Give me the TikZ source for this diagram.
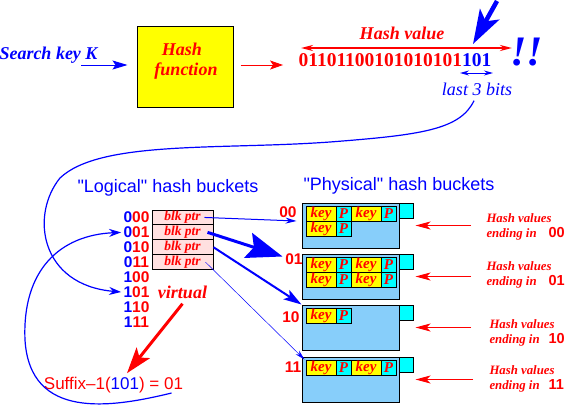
\documentclass[tikz,border=0pt]{standalone}
\usepackage{fontspec}
\setmainfont{Liberation Serif}
\setsansfont{Liberation Sans}
\usetikzlibrary{arrows.meta}
\definecolor{ltblue}{RGB}{135,206,250}
\definecolor{ptrpink}{RGB}{255,224,224}
\definecolor{boxyellow}{RGB}{255,255,0}
\definecolor{tabcyan}{RGB}{0,255,255}
\newcommand{\tailbits}[1]{{\sffamily\upshape\fontsize{14.5}{15.5}\selectfont #1}}

\begin{document}
\begin{tikzpicture}[x=1pt, y=-1pt, line width=1pt,
		bi/.style={font=\fontsize{#1}{#1}\selectfont\bfseries\itshape, inner sep=0pt},
		sans/.style={font=\sffamily\fontsize{#1}{#1}\selectfont, inner sep=0pt},
		sansb/.style={font=\sffamily\bfseries\fontsize{#1}{#1}\selectfont, inner sep=0pt},
		hashbox/.style={draw, fill=boxyellow, minimum width=96pt, minimum height=81pt},
		ptrcell/.style={draw, fill=ptrpink, minimum width=61pt, minimum height=14.9pt, text=red, bi=13.5},
		bucket/.style={draw, fill=ltblue, minimum width=97pt, minimum height=45pt},
		flag/.style={draw, fill=tabcyan, minimum width=14pt, minimum height=15pt},
		keycell/.style={draw, fill=boxyellow, minimum width=30pt, minimum height=15pt, text=red, bi=15},
		pcell/.style={draw, fill=tabcyan, minimum width=15pt, minimum height=15pt, text=red, bi=15},
		bitlbl/.style={sansb=15.5, text=red},
		ending/.style={font=\fontsize{12.8}{15.5}\selectfont\bfseries\itshape, inner sep=0pt, text=red, align=left, anchor=west},
		link/.style={draw=blue, line width=1.2pt, -{Stealth[length=12pt, width=8pt]}},
		redarr/.style={draw=red, -{Stealth[length=15pt, width=8pt, inset=4pt]}}
	]
		\useasboundingbox (0, 0) rectangle (566, 410);

		\node[bi=18, text=blue, anchor=base] (skey) at (48.5, 59) {Search key K};
		\node[hashbox] (hf) at (185, 66.5) {};
		\node[bi=18, text=red, anchor=base] (hfa) at (182, 55) {Hash};
		\node[bi=18, text=red, anchor=base] (hfb) at (186, 75.5) {function};
		\node[anchor=base, inner sep=0pt, text=red, font=\fontsize{19.5}{19.5}\selectfont\bfseries] (bits) at (395, 66.5) {01101100101010101\textcolor{blue}{101}};
		\node[bi=18, text=red, anchor=base] (hval) at (402, 39) {Hash value};
		\node[bi=42, text=blue, anchor=base] (bang) at (527, 65) {!!};
		\node[anchor=base, inner sep=0pt, text=blue, font=\fontsize{18}{18}\selectfont\itshape] (last3) at (477, 95) {last 3 bits};

		\coordinate (kin) at (81, 65);
		\coordinate (hvl) at (301, 48);
		\coordinate (hvr) at (512, 48);
		\coordinate (lbl) at (460, 73);
		\coordinate (lbr) at (493, 73);
		\coordinate (bigtail) at (497, 1);

		\node[sans=18, text=blue, anchor=base] (logt) at (168, 192) {\textquotedbl Logical\textquotedbl{} hash buckets};
		\node[sans=18, text=blue, anchor=base] (phyt) at (399, 190) {\textquotedbl Physical\textquotedbl{} hash buckets};

		\node[bitlbl] (l000) at (136.5, 217.5) {\textcolor{blue}{0}00};
		\node[bitlbl] (l001) at (136.5, 232.4) {\textcolor{blue}{0}01};
		\node[bitlbl] (l010) at (136.5, 247.3) {\textcolor{blue}{0}10};
		\node[bitlbl] (l011) at (136.5, 262.2) {\textcolor{blue}{0}11};
		\node[bitlbl] (l100) at (136.5, 277.1) {\textcolor{blue}{1}00};
		\node[bitlbl] (l101) at (136.5, 292.0) {\textcolor{blue}{1}01};
		\node[bitlbl] (l110) at (136.5, 306.9) {\textcolor{blue}{1}10};
		\node[bitlbl] (l111) at (136.5, 321.8) {\textcolor{blue}{1}11};

		\node[ptrcell] (p000) at (182.5, 217.45) {blk ptr};
		\node[ptrcell] (p001) at (182.5, 232.35) {blk ptr};
		\node[ptrcell] (p010) at (182.5, 247.25) {blk ptr};
		\node[ptrcell] (p011) at (182.5, 262.15) {blk ptr};

		\node[bi=18, text=red, anchor=base] (virt) at (182.5, 298) {virtual};
		\node[sans=17, text=red, anchor=base] (suffix) at (113.5, 389) {Suffix--1(\textcolor{blue}{101}) = 01};

		\node[bucket] (b00) at (350.5, 225.5) {};
		\node[flag] (f00) at (406, 210.5) {};
		\node[keycell] (k00a) at (321, 214) {key};
		\node[pcell] (q00a) at (343.5, 214) {P};
		\node[keycell] (k00b) at (366, 214) {key};
		\node[pcell] (q00b) at (388.5, 214) {P};
		\node[keycell] (k00c) at (321, 229) {key};
		\node[pcell] (q00c) at (343.5, 229) {P};

		\node[bucket] (b01) at (350.5, 276.5) {};
		\node[flag] (f01) at (406, 261.5) {};
		\node[keycell] (k01a) at (321, 265) {key};
		\node[pcell] (q01a) at (343.5, 265) {P};
		\node[keycell] (k01b) at (366, 265) {key};
		\node[pcell] (q01b) at (388.5, 265) {P};
		\node[keycell] (k01c) at (321, 280) {key};
		\node[pcell] (q01c) at (343.5, 280) {P};
		\node[keycell] (k01d) at (366, 280) {key};
		\node[pcell] (q01d) at (388.5, 280) {P};

		\node[bucket] (b10) at (350.5, 327.5) {};
		\node[flag] (f10) at (406, 312.5) {};
		\node[keycell] (k10a) at (321, 316) {key};
		\node[pcell] (q10a) at (343.5, 316) {P};

		\node[bucket] (b11) at (350.5, 379.5) {};
		\node[flag] (f11) at (406, 364.5) {};
		\node[keycell] (k11a) at (321, 368) {key};
		\node[pcell] (q11a) at (343.5, 368) {P};
		\node[keycell] (k11b) at (366, 368) {key};
		\node[pcell] (q11b) at (388.5, 368) {P};

		\node[sansb=15.5, text=red] (n00) at (288, 212) {00};
		\node[sansb=15.5, text=red] (n01) at (294, 259) {01};
		\node[sansb=15.5, text=red] (n10) at (291, 317) {10};
		\node[sansb=15.5, text=red] (n11) at (293, 367) {11};

		\node[ending] (hv00) at (486, 226.8) {Hash values\\ending in\hspace{12pt}\tailbits{00}};
		\node[ending] (hv01) at (486, 274.8) {Hash values\\ending in\hspace{12pt}\tailbits{01}};
		\node[ending] (hv10) at (489, 332.8) {Hash values\\ending in\hspace{9pt}\tailbits{10}};
		\node[ending] (hv11) at (489, 378.8) {Hash values\\ending in\hspace{9pt}\tailbits{11}};

		\draw[blue, -{Stealth[length=15pt, width=9pt, inset=3pt]}, shorten >=9pt] (kin) -- (kin -| hf.west);
		\draw[red, -{Stealth[length=13pt, width=9pt, inset=3pt]}, shorten <=7pt, shorten >=15pt] (hf.east |- kin) -- (kin -| bits.west);
		\draw[red, line width=2pt, {Stealth[length=12pt, width=6pt]}-{Stealth[length=12pt, width=6pt]}] (hvl) -- (hvr);
		\draw[blue, {Stealth[length=9pt, width=5pt]}-{Stealth[length=9pt, width=5pt]}] (lbl) -- (lbr);
		\draw[blue, line width=4.5pt, -{Stealth[length=34pt, width=22pt, inset=8pt]}] (bigtail) -- ([xshift=78pt, yshift=9pt]bits.north);

		\draw[link] ([xshift=-3pt, yshift=-5pt]last3.south) .. controls (460, 130) and (420, 135) .. (330, 142) .. controls (220, 150) and (100, 140) .. (60, 178) .. controls (30, 215) and (40, 285) .. ([xshift=-2pt]l101.west);
		\draw[link] ([xshift=-12pt]suffix.south east) .. controls (110, 408) and (30, 420) .. (25, 340) .. controls (22, 270) and (60, 235) .. ([xshift=-2pt]l001.west);
		\draw[red, line width=3pt, -{Stealth[length=26pt, width=17pt, inset=6pt]}] ([yshift=-5pt]virt.south) -- ([xshift=13.5pt, yshift=3pt]suffix.north);

		\draw[blue, -{Stealth[length=11pt, width=6pt]}] ([xshift=-9pt]p000.east) -- ([xshift=-5pt, yshift=4.5pt]b00.west);
		\draw[blue, line width=3pt, -{Stealth[length=36pt, width=26pt, inset=6pt]}] ([xshift=-6pt]p001.east) -- ([xshift=-19pt, yshift=-3pt]b01.north west);
		\draw[blue, line width=2pt, -{Stealth[length=18pt, width=11pt, inset=4pt]}] (p010.east) -- (b10.north west);
		\draw[blue, line width=0.5pt, -{Stealth[length=10pt, width=5pt]}] ([xshift=-8pt]p011.east) -- ([xshift=3pt, yshift=-3pt]b11.north west);

		\draw[redarr, shorten <=15pt] (hv00.west |- b00.east) -- ([xshift=16pt]b00.east);
		\draw[redarr, shorten <=15pt] (hv01.west |- b01.east) -- ([xshift=16pt]b01.east);
		\draw[redarr, shorten <=18pt] (hv10.west |- b10.east) -- ([xshift=16pt]b10.east);
		\draw[redarr, shorten <=16pt] (hv11.west |- b11.east) -- ([xshift=16pt]b11.east);
\end{tikzpicture}
\end{document}
